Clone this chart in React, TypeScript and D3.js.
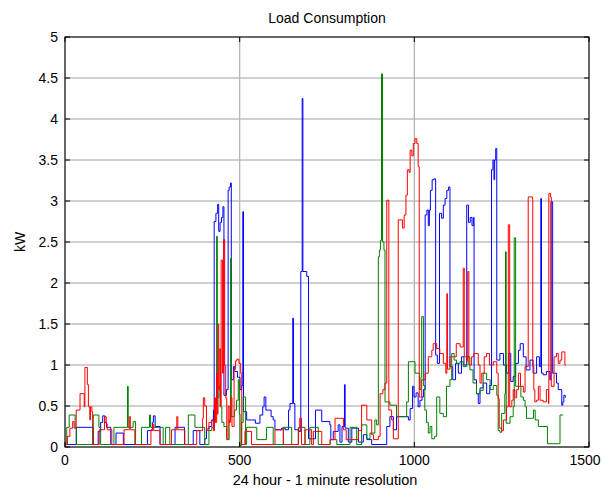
import React from "react";
import * as d3 from "d3";

const xTicks = [0, 500, 1000, 1500];
const yTicks = [0, 0.5, 1, 1.5, 2, 2.5, 3, 3.5, 4, 4.5, 5];

const blue: [number, number][] = [
  [0,0.03],[32,0.24],[81,0.03],[95,0.19],[102,0.3],[108,0.38],[114,0.3],[119,0.24],[131,0.03],[146,0.17],[167,0.03],
  [236,0.2],[250,0.3],[253,0.38],[258,0.25],[272,0.03],[315,0.24],[342,0.03],[367,0.2],[386,0.03],[400,0.1],[405,0.22],
  [412,0.25],[420,0.33],[425,0.45],[427,2.75],[432,2.85],[437,2.96],[440,2.63],[444,2.74],[448,2.8],[452,2.93],[455,0.63],
  [462,0.7],[467,3.13],[470,3.17],[474,3.22],[476,0.82],[482,0.98],[486,0.92],[494,0.85],[501,0.7],[506,0.75],[509,2.87],
  [511,0.43],[520,0.33],[534,0.33],[545,0.29],[558,0.39],[566,0.49],[570,0.61],[575,0.45],[582,0.45],[590,0.37],[596,0.33],
  [601,0.21],[620,0.23],[630,0.21],[640,0.45],[644,0.53],[652,1.57],[654,0.53],[658,0.21],[670,0.19],[675,2.14],[679,4.25],
  [681,2.14],[692,2.08],[697,0.1],[717,0.45],[735,0.31],[750,0.31],[758,0.27],[761,0.09],[768,0.19],[782,0.27],[787,0.06],
  [793,0.25],[800,0.76],[802,0.23],[811,0.06],[821,0.23],[840,0.06],[854,0.15],[864,0.09],[878,0.03],[916,0.03],[921,0.25],
  [930,0.37],[940,0.21],[949,0.37],[973,0.37],[983,0.33],[988,0.47],[995,0.74],[999,0.61],[1005,0.66],[1011,0.49],[1016,0.57],
  [1022,0.61],[1026,0.7],[1031,2.83],[1036,2.89],[1040,2.7],[1043,2.89],[1046,3.13],[1051,3.26],[1056,3.27],[1061,1.12],
  [1066,1.02],[1072,2.85],[1078,2.79],[1083,2.95],[1088,3.03],[1093,3.13],[1098,3.17],[1102,0.98],[1110,0.82],[1118,1.02],
  [1126,0.9],[1135,1.1],[1142,1.0],[1150,2.95],[1155,2.74],[1160,2.8],[1165,2.7],[1169,2.8],[1171,0.82],[1178,0.65],[1183,0.53],
  [1188,0.72],[1197,0.78],[1207,0.65],[1216,0.75],[1221,3.38],[1225,3.5],[1228,3.26],[1230,3.5],[1233,3.64],[1236,1.06],
  [1245,1.14],[1255,1.0],[1264,0.9],[1270,1.14],[1276,0.8],[1283,0.86],[1290,1.02],[1298,1.18],[1303,1.26],[1312,1.1],
  [1320,0.94],[1331,1.06],[1340,0.9],[1350,1.1],[1358,0.98],[1362,3.03],[1364,0.9],[1369,0.88],[1378,0.92],[1388,0.82],
  [1391,2.99],[1396,0.9],[1407,0.78],[1412,0.7],[1422,0.51],[1425,0.55],[1428,0.63],[1432,0.6],
];

const green: [number, number][] = [
  [0,0.03],[5,0.24],[12,0.39],[29,0.24],[33,0.03],[81,0.39],[97,0.24],[102,0.03],[140,0.24],[179,0.74],[181,0.24],[195,0.31],
  [202,0.03],[219,0.24],[242,0.39],[245,0.24],[281,0.03],[288,0.24],[300,0.03],[353,0.39],[372,0.24],[400,0.03],[412,0.2],
  [420,0.24],[425,0.3],[430,0.5],[434,2.57],[436,0.6],[441,0.74],[444,0.49],[449,0.3],[455,0.25],[463,0.09],[470,0.33],
  [474,2.3],[476,0.37],[485,0.45],[491,0.57],[496,0.82],[499,0.4],[501,0.02],[505,0.3],[510,0.61],[517,0.03],[520,0.24],
  [549,0.09],[577,0.24],[596,0.03],[625,0.24],[649,0.03],[668,0.24],[687,0.03],[701,0.24],[725,0.03],[759,0.09],[778,0.03],
  [816,0.24],[835,0.03],[849,0.27],[864,0.1],[873,0.17],[887,0.33],[892,0.27],[897,2.32],[900,2.4],[903,2.52],[906,4.55],
  [909,2.5],[913,2.4],[916,0.55],[930,0.51],[949,0.37],[965,0.37],[978,0.55],[983,1.04],[1002,0.9],[1015,0.7],[1019,0.85],
  [1021,1.59],[1026,0.75],[1030,0.45],[1035,0.3],[1040,0.17],[1045,0.25],[1050,0.1],[1058,0.13],[1064,0.61],[1073,0.41],
  [1083,0.37],[1092,0.74],[1102,0.82],[1107,1.14],[1114,1.06],[1121,1.02],[1131,1.04],[1140,0.98],[1150,1.1],[1159,0.94],
  [1168,0.78],[1178,0.65],[1188,0.69],[1197,0.9],[1207,0.82],[1217,0.7],[1226,0.75],[1236,0.63],[1240,0.2],[1245,0.18],
  [1250,0.41],[1259,0.65],[1261,2.38],[1263,0.29],[1274,0.37],[1283,0.49],[1286,2.55],[1290,0.74],[1298,0.74],[1305,0.61],
  [1312,0.57],[1317,0.49],[1321,0.35],[1335,0.35],[1341,0.45],[1346,0.33],[1355,0.25],[1381,0.04],[1412,0.04],[1417,0.39],
  [1426,0.39],
];

const red: [number, number][] = [
  [0,0.03],[7,0.13],[14,0.23],[22,0.31],[26,0.23],[32,0.45],[43,0.65],[55,0.49],[57,0.97],[64,0.76],[67,0.49],[71,0.33],
  [73,0.49],[77,0.43],[79,0.03],[98,0.21],[110,0.21],[113,0.37],[118,0.28],[121,0.21],[134,0.03],[169,0.21],[182,0.21],
  [184,0.37],[187,0.21],[200,0.03],[246,0.21],[251,0.28],[254,0.2],[272,0.03],[305,0.21],[318,0.21],[320,0.37],[323,0.21],
  [343,0.03],[377,0.2],[390,0.2],[394,0.35],[396,0.6],[400,0.5],[405,0.2],[412,0.3],[420,0.33],[425,0.2],[428,0.6],[431,0.3],
  [434,0.9],[436,0.4],[438,1.5],[440,0.7],[443,1.2],[445,0.5],[447,2.28],[451,0.9],[454,2.53],[457,1.0],[460,0.6],[463,0.1],
  [467,0.5],[470,0.3],[474,0.6],[478,0.25],[484,0.95],[488,1.05],[492,1.07],[498,1.02],[503,0.9],[506,0.03],[515,0.19],
  [534,0.03],[601,0.21],[625,0.03],[668,0.23],[672,0.35],[677,0.03],[687,0.21],[706,0.03],[711,0.19],[735,0.03],[759,0.09],
  [773,0.35],[797,0.21],[805,0.09],[840,0.2],[849,0.51],[864,0.33],[878,0.15],[883,0.09],[897,0.13],[902,0.65],[910,0.7],
  [916,0.78],[921,3.01],[927,0.45],[935,0.33],[940,0.1],[954,2.77],[966,2.67],[971,2.83],[976,3.07],[980,3.38],[985,3.35],
  [988,3.62],[993,3.55],[997,3.7],[1002,3.76],[1007,3.7],[1011,3.42],[1014,0.61],[1021,0.82],[1031,0.9],[1040,1.1],[1050,1.18],
  [1054,1.26],[1064,1.2],[1073,1.14],[1083,1.02],[1090,0.9],[1093,1.87],[1095,0.95],[1102,1.1],[1112,1.1],[1120,1.26],
  [1131,1.22],[1140,2.18],[1143,1.1],[1150,1.05],[1153,2.14],[1156,1.0],[1164,1.1],[1170,1.14],[1183,1.0],[1188,0.78],
  [1193,0.9],[1200,1.1],[1207,1.14],[1215,1.0],[1226,1.04],[1236,0.9],[1240,0.59],[1243,0.23],[1250,0.2],[1255,0.33],
  [1264,0.49],[1269,2.71],[1273,0.49],[1279,0.57],[1283,0.7],[1288,0.6],[1293,0.7],[1298,0.9],[1304,0.74],[1312,0.67],
  [1317,0.98],[1326,3.05],[1338,3.02],[1339,0.98],[1342,0.7],[1345,0.55],[1350,0.57],[1355,0.74],[1360,0.57],[1369,0.55],
  [1378,0.7],[1384,0.53],[1385,3.09],[1390,3.05],[1392,0.74],[1400,1.1],[1407,1.14],[1412,1.02],[1417,1.06],[1422,1.16],
  [1431,1.0],[1434,1.0],
];

const W = 603, H = 488;
const m = { left: 65, right: 589, top: 37, bottom: 447 };
const FONT = "'Liberation Sans', Arial, sans-serif";

export default function App() {
  const x = d3.scaleLinear().domain([0, 1500]).range([m.left, m.right]);
  const y = d3.scaleLinear().domain([0, 5]).range([m.bottom, m.top]);
  const line = d3.line<[number, number]>().x((d) => x(d[0])).y((d) => y(d[1])).curve(d3.curveStepAfter);
  const series = [
    { data: blue, color: "#0000ff" },
    { data: green, color: "#008000" },
    { data: red, color: "#ff0000" },
  ];
  const tl = 5;
  return (
    <svg width={W} height={H} style={{ position: "absolute", left: 0, top: 0, background: "#fff" }} fontFamily={FONT}>
      <rect x={0} y={0} width={W} height={H} fill="#fff" />
      {yTicks.map((t) => (
        <line key={"gy" + t} x1={m.left} x2={m.right} y1={y(t)} y2={y(t)} stroke="#a0a0a0" strokeWidth={1} />
      ))}
      {xTicks.map((t) => (
        <line key={"gx" + t} x1={x(t)} x2={x(t)} y1={m.top} y2={m.bottom} stroke="#b4b4b4" strokeWidth={1.3} />
      ))}
      <g fill="none" strokeWidth={1} strokeLinejoin="round">
        {series.map((s, i) => (
          <path key={i} d={line(s.data) || ""} stroke={s.color} />
        ))}
      </g>
      <rect x={m.left} y={m.top} width={m.right - m.left} height={m.bottom - m.top} fill="none" stroke="#000" strokeWidth={1} />
      {yTicks.map((t) => (
        <g key={"ty" + t}>
          <line x1={m.left} x2={m.left + tl} y1={y(t)} y2={y(t)} stroke="#000" />
          <line x1={m.right} x2={m.right - tl} y1={y(t)} y2={y(t)} stroke="#000" />
          <text x={m.left - 7} y={y(t) + 5} textAnchor="end" fontSize={14}>{String(t)}</text>
        </g>
      ))}
      {xTicks.map((t) => (
        <g key={"tx" + t}>
          <line x1={x(t)} x2={x(t)} y1={m.bottom} y2={m.bottom - tl} stroke="#000" />
          <line x1={x(t)} x2={x(t)} y1={m.top} y2={m.top + tl} stroke="#000" />
          <text x={Math.min(x(t), 585)} y={m.bottom + 18} textAnchor="middle" fontSize={14}>{String(t)}</text>
        </g>
      ))}
      <text x={(m.left + m.right) / 2} y={23} textAnchor="middle" fontSize={14}>Load Consumption</text>
      <text x={(m.left + m.right) / 2 - 2} y={485} textAnchor="middle" fontSize={14.5}>24 hour - 1 minute resolution</text>
      <text transform={`translate(25,${(m.top + m.bottom) / 2}) rotate(-90)`} textAnchor="middle" fontSize={14}>kW</text>
    </svg>
  );
}
